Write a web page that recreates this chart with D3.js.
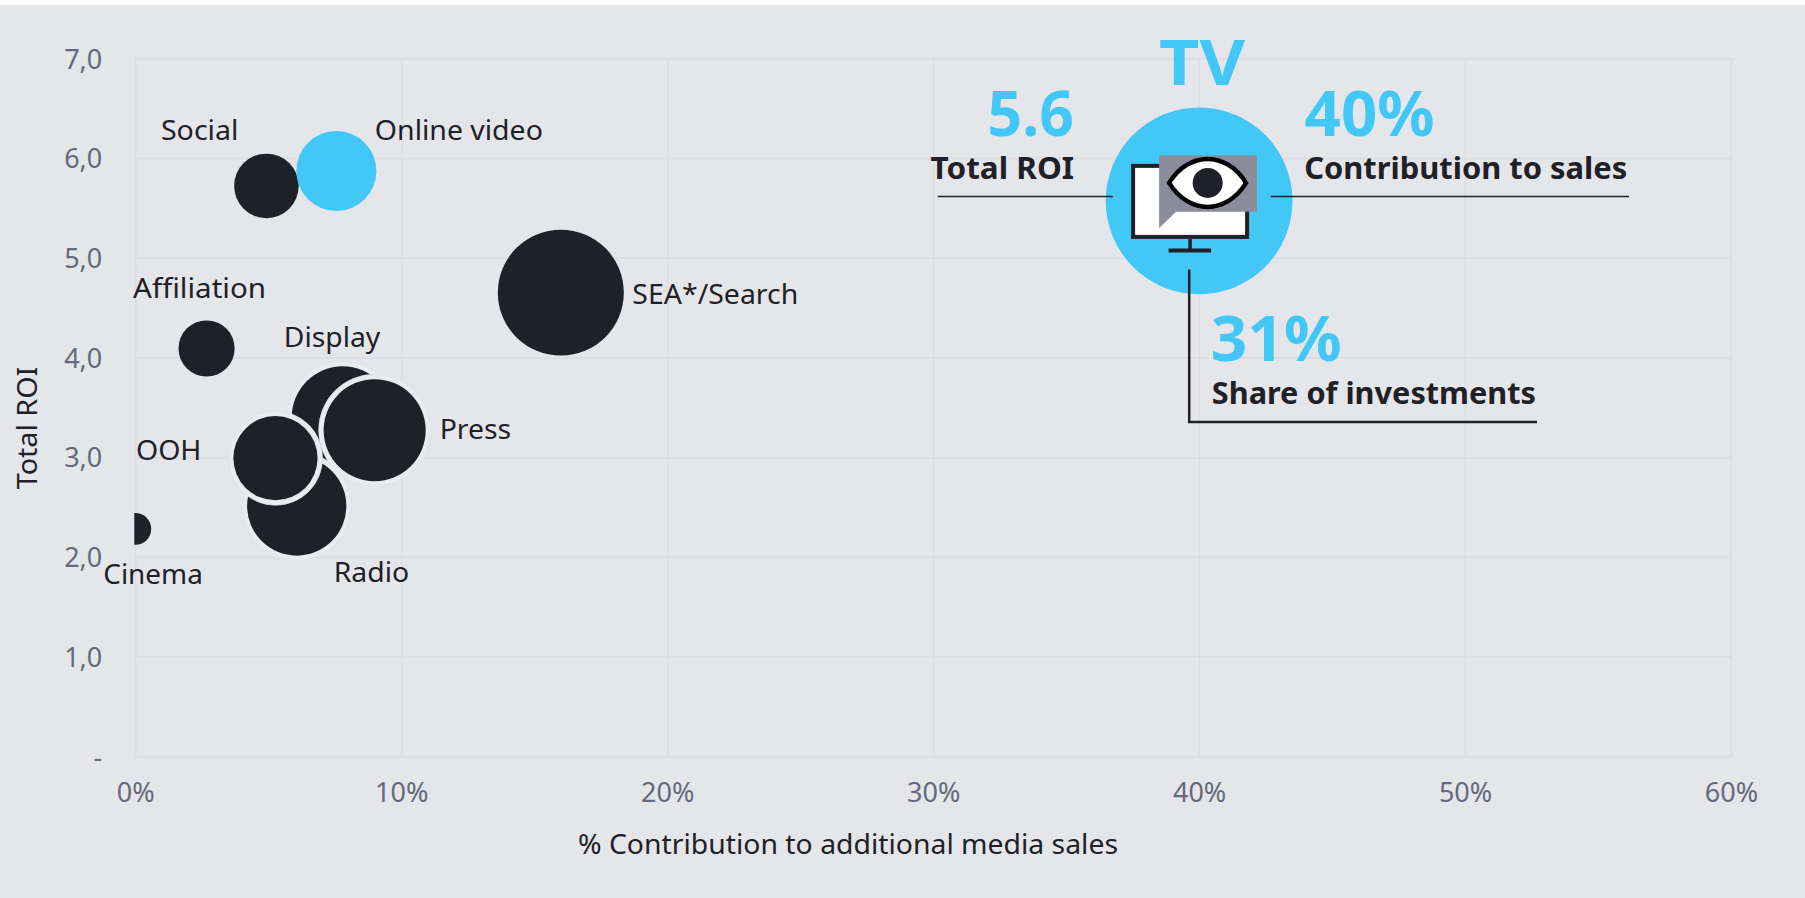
<!DOCTYPE html>
<html>
<head>
<meta charset="utf-8">
<script src="https://cdn.jsdelivr.net/npm/d3@7"></script>
<style>
    html, body { margin: 0; padding: 0; background: #fff; }
    svg { display: block; }
    text { font-family: "Noto Sans", sans-serif; }
</style>
</head>
<body>
<svg id="chart" width="1805" height="898"></svg>
<script>
// Values
var channels = ['Display', 'Radio', 'Press', 'OOH', 'SEA*/Search', 'Affiliation', 'Social', 'Cinema', 'Online video', 'TV'];
var contribution = [7.8, 6.07, 9.0, 5.27, 16.0, 2.68, 4.93, 0, 7.56, 40];
var totalRoi = [3.4, 2.51, 3.27, 2.99, 4.65, 4.09, 5.72, 2.28, 5.87, 5.57];
var investment = [9.25, 8.75, 9.25, 6.3, 14.1, 2.8, 3.7, 0.9, 5.7, 31];
var highlighted = ['Online video', 'TV'];
var ringed = ['Display', 'Radio', 'Press', 'OOH'];

var xTicks = [0, 10, 20, 30, 40, 50, 60];
var yTicks = [0, 1, 2, 3, 4, 5, 6, 7];
var yTickLabels = ['-', '1,0', '2,0', '3,0', '4,0', '5,0', '6,0', '7,0'];

var colors = {
    bg: '#e5e6ea',
    grid: '#dddee3',
    ink: '#1f2126',
    tick: '#666a7c',
    blue: '#43c7f7',
    halo: '#eaebee',
    haloEdge: '#dcdde2',
    gray: '#8a8b9b'
};

var margin = {left: 135.3, right: 1731, top: 58.3, bottom: 756.3};

// label anchor relative to bubble centre, w = wanted text width
var labelPlace = {
    'Display': {dx: -59, dy: -70, w: 96.5},
    'Radio': {dx: 37, dy: 76, w: 75.5},
    'Press': {dx: 65, dy: 9, w: 71.5},
    'OOH': {dx: -139.5, dy: 1.5, w: 65.5},
    'SEA*/Search': {dx: 71.5, dy: 11.5, w: 166},
    'Affiliation': {dx: -73.5, dy: -50.4, w: 133},
    'Social': {dx: -105.5, dy: -46, w: 77.5},
    'Cinema': {dx: -32, dy: 55, w: 99.5},
    'Online video': {dx: 38.5, dy: -30.8, w: 168}
};

var x = d3.scaleLinear().domain([0, 60]).range([margin.left, margin.right]);
var y = d3.scaleLinear().domain([0, 7]).range([margin.bottom, margin.top]);
var r = d3.scaleSqrt().domain([0, 31]).range([0, 93.4]);

var points = channels.map(function(name, i) {
    return {name: name, x: contribution[i], y: totalRoi[i], size: investment[i]};
});

var svg = d3.select('#chart');

svg.append('rect')
    .attr('y', 5)
    .attr('width', 1805)
    .attr('height', 893)
    .attr('fill', colors.bg);

svg.append('clipPath').attr('id', 'plotClip')
    .append('rect')
        .attr('x', margin.left - 1)
        .attr('y', 0)
        .attr('width', margin.right - margin.left + 1)
        .attr('height', margin.bottom);

// axes, the tick lines are the grid
var xAxis = svg.append('g')
    .attr('transform', 'translate(0,' + margin.bottom + ')')
    .call(d3.axisBottom(x)
        .tickValues(xTicks)
        .tickFormat(function(d) { return d + '%'; })
        .tickSize(margin.top - margin.bottom)
        .tickPadding(0));

var yAxis = svg.append('g')
    .attr('transform', 'translate(' + margin.left + ',0)')
    .call(d3.axisLeft(y)
        .tickValues(yTicks)
        .tickFormat(function(d, i) { return yTickLabels[i]; })
        .tickSize(margin.left - margin.right)
        .tickPadding(0));

xAxis.select('.domain').remove();
yAxis.select('.domain').remove();
xAxis.selectAll('line').attr('stroke', colors.grid).attr('stroke-width', 1.5);
yAxis.selectAll('line').attr('stroke', colors.grid).attr('stroke-width', 2);

xAxis.selectAll('text')
    .attr('y', 45.5)
    .attr('dy', 0)
    .attr('fill', colors.tick)
    .style('font-size', '27px');

yAxis.selectAll('text')
    .attr('x', -33)
    .attr('dy', 9.8)
    .attr('fill', colors.tick)
    .style('font-size', '27px');

// axis titles
svg.append('text')
    .attr('x', 848)
    .attr('y', 854)
    .attr('text-anchor', 'middle')
    .attr('textLength', 540)
    .attr('lengthAdjust', 'spacingAndGlyphs')
    .attr('fill', colors.ink)
    .style('font-size', '27px')
    .text('% Contribution to additional media sales');

svg.append('text')
    .attr('transform', 'translate(36.8,428) rotate(-90)')
    .attr('text-anchor', 'middle')
    .attr('textLength', 122.6)
    .attr('lengthAdjust', 'spacingAndGlyphs')
    .attr('fill', colors.ink)
    .style('font-size', '27px')
    .text('Total ROI');

// bubbles
var bubbles = svg.append('g').attr('clip-path', 'url(#plotClip)');

var isBlue = function(d) {
    return highlighted.indexOf(d.name) !== -1;
};

var bubble = bubbles.selectAll('g')
    .data(points)
    .enter()
    .append('g')
        .attr('transform', function(d) {
            return 'translate(' + x(d.x) + ',' + y(d.y) + ')';
        });

bubble.filter(function(d) { return ringed.indexOf(d.name) !== -1; })
    .append('circle')
        .attr('r', function(d) { return r(d.size) + 5; })
        .attr('fill', colors.halo)
        .attr('stroke', colors.haloEdge)
        .attr('stroke-width', 0.6);

bubble.append('circle')
    .attr('r', function(d) { return r(d.size); })
    .attr('fill', function(d) { return isBlue(d) ? colors.blue : colors.ink; });

// bubble labels
svg.append('g').selectAll('text')
    .data(points.filter(function(d) { return labelPlace[d.name]; }))
    .enter()
    .append('text')
        .attr('x', function(d) { return x(d.x) + labelPlace[d.name].dx; })
        .attr('y', function(d) { return y(d.y) + labelPlace[d.name].dy; })
        .attr('textLength', function(d) { return labelPlace[d.name].w; })
        .attr('lengthAdjust', 'spacingAndGlyphs')
        .attr('fill', colors.ink)
        .style('font-size', '27px')
        .text(function(d) { return d.name; });

// TV callout, everything placed from the TV bubble centre
var tv = points[channels.indexOf('TV')];
var callout = svg.append('g')
    .attr('transform', 'translate(' + x(tv.x) + ',' + y(tv.y) + ')');

var drawIcon = function(g) {
    g.append('rect')
        .attr('x', -66)
        .attr('y', -35)
        .attr('width', 114)
        .attr('height', 71)
        .attr('fill', '#fff')
        .attr('stroke', colors.ink)
        .attr('stroke-width', 4);
    g.append('line')
        .attr('x1', -9).attr('x2', -9)
        .attr('y1', 38).attr('y2', 50)
        .attr('stroke', colors.ink)
        .attr('stroke-width', 3.5);
    g.append('line')
        .attr('x1', -30.5).attr('x2', 12)
        .attr('y1', 49.5).attr('y2', 49.5)
        .attr('stroke', colors.ink)
        .attr('stroke-width', 4);
    g.append('path')
        .attr('d', 'M-40,-45.5H57.8V10.8H-23L-40,27Z')
        .attr('fill', colors.gray);
    g.append('path')
        .attr('d', 'M-30,-18C-10,-50 27,-50 47,-18C27,14 -10,14 -30,-18Z')
        .attr('fill', '#fff')
        .attr('stroke', '#000')
        .attr('stroke-width', 4.5);
    g.append('circle')
        .attr('cx', 8.6)
        .attr('cy', -18)
        .attr('r', 15)
        .attr('fill', colors.ink);
};
drawIcon(callout);

var leaders = [
    'M-261.4,-4.3H-86.4',
    'M71.7,-4.3H429.9'
];
callout.selectAll('path.leader')
    .data(leaders)
    .enter()
    .append('path')
        .attr('class', 'leader')
        .attr('d', function(d) { return d; })
        .attr('fill', 'none')
        .attr('stroke', colors.ink)
        .attr('stroke-width', 1.5);

callout.append('path')
    .attr('d', 'M-9.9,68.7V221H337.9')
    .attr('fill', 'none')
    .attr('stroke', colors.ink)
    .attr('stroke-width', 2.5);

var calloutBig = [
    {text: 'TV', dx: -40, dy: -116, w: 86},
    {text: '5.6', dx: -211.5, dy: -65, w: 86.4},
    {text: '40%', dx: 105.5, dy: -65, w: 130},
    {text: '31%', dx: 11.7, dy: 160, w: 130.8}
];
var calloutSmall = [
    {text: 'Total ROI', dx: -268.5, dy: -21.5, w: 143.4},
    {text: 'Contribution to sales', dx: 105.1, dy: -21.5, w: 323},
    {text: 'Share of investments', dx: 12.7, dy: 203.5, w: 324.2}
];

callout.selectAll('text.big')
    .data(calloutBig)
    .enter()
    .append('text')
        .attr('class', 'big')
        .attr('x', function(d) { return d.dx; })
        .attr('y', function(d) { return d.dy; })
        .attr('textLength', function(d) { return d.w; })
        .attr('lengthAdjust', 'spacingAndGlyphs')
        .attr('fill', colors.blue)
        .style('font-size', '63px')
        .style('font-weight', 700)
        .text(function(d) { return d.text; });

callout.selectAll('text.small')
    .data(calloutSmall)
    .enter()
    .append('text')
        .attr('class', 'small')
        .attr('x', function(d) { return d.dx; })
        .attr('y', function(d) { return d.dy; })
        .attr('textLength', function(d) { return d.w; })
        .attr('lengthAdjust', 'spacingAndGlyphs')
        .attr('fill', colors.ink)
        .style('font-size', '30px')
        .style('font-weight', 700)
        .text(function(d) { return d.text; });
</script>
</body>
</html>
